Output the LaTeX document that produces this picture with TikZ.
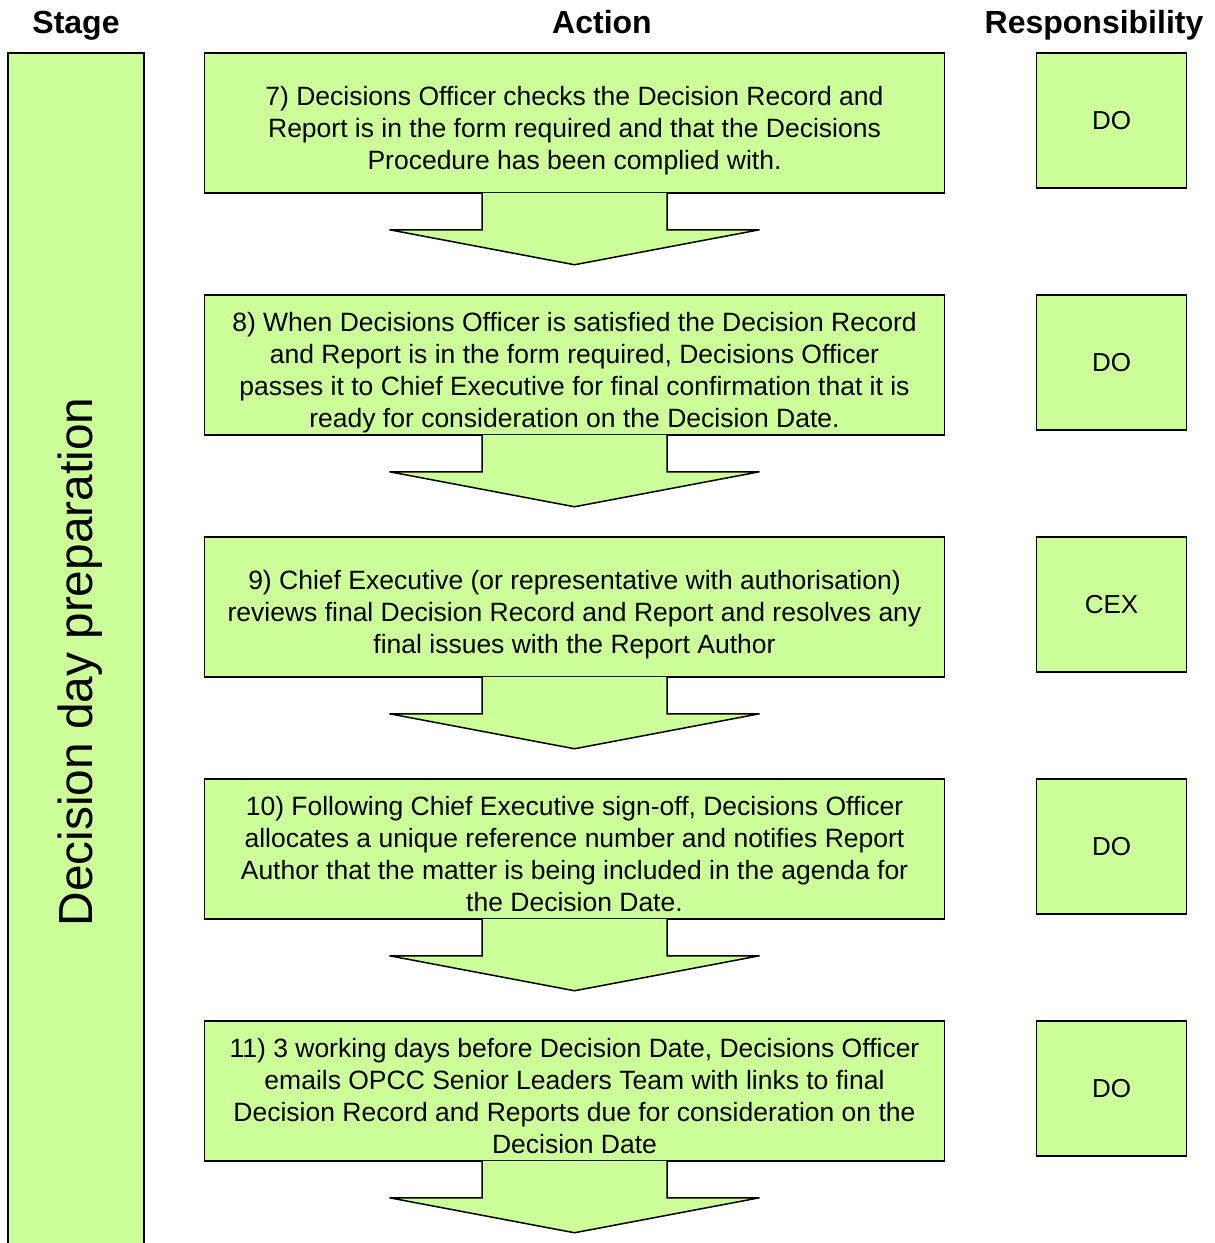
\documentclass[tikz,border=0pt]{standalone}
\usepackage{fontspec}
\setmainfont{Liberation Sans}
\definecolor{boxgreen}{HTML}{CCFF99}
% struts so that every action text sits as low in its box as in the original
\newcommand{\actiontext}[1]{\rule{0pt}{36pt}#1\rule[-7pt]{0pt}{7pt}}
\tikzset{
  actionbox/.style={draw=black, fill=boxgreen, line width=1.5pt, minimum width=740pt, minimum height=140pt,
    align=center, inner sep=0pt, font=\fontsize{26.5}{32}\selectfont},
  respbox/.style={draw=black, fill=boxgreen, line width=1.5pt, minimum width=150pt, minimum height=135pt,
    inner sep=0pt, font=\fontsize{26}{32}\selectfont},
  downarrow/.style={draw=black, fill=boxgreen, line width=1.5pt, line join=miter},
  header/.style={anchor=base, font=\bfseries\fontsize{32}{36}\selectfont},
}
\begin{document}
\begin{tikzpicture}[x=1pt, y=-1pt]
      \useasboundingbox (0,0) rectangle (1215,1243);
      % Headers
      \node[header] (hstage) at (76,33) {Stage};
      \node[header] (haction) at (602,33) {Action};
      \node[header] (hresp) at (1094,33) {Responsibility};

      % Stage column
      \draw[line width=1.5pt, fill=boxgreen] (8,1245) -- (8,53) -- (144,53) -- (144,1245);
      \node[rotate=90, font=\fontsize{47.8}{52}\selectfont] (stagelabel) at (80.5,662) {Decision day preparation};

      % Actions
      \node[actionbox] (act7) at (574.5,123) {\actiontext{7) Decisions Officer checks the Decision Record and\\
        Report is in the form required and that the Decisions\\
        Procedure has been complied with.}};
      \draw[downarrow] ([xshift=-92.5pt,yshift=1pt]act7.south) -- ++(0,37) -- ++(-92.5,0) -- ++(185,35) -- ++(185,-35) -- ++(-92.5,0) -- ++(0,-37);

      \node[actionbox] (act8) at (574.5,365) {\actiontext{8) When Decisions Officer is satisfied the Decision Record\\
        and Report is in the form required, Decisions Officer\\
        passes it to Chief Executive for final confirmation that it is\\
        ready for consideration on the Decision Date.}};
      \draw[downarrow] ([xshift=-92.5pt,yshift=1pt]act8.south) -- ++(0,37) -- ++(-92.5,0) -- ++(185,35) -- ++(185,-35) -- ++(-92.5,0) -- ++(0,-37);

      \node[actionbox] (act9) at (574.5,607) {\actiontext{9) Chief Executive (or representative with authorisation)\\
        reviews final Decision Record and Report and resolves any\\
        final issues with the Report Author}};
      \draw[downarrow] ([xshift=-92.5pt,yshift=1pt]act9.south) -- ++(0,37) -- ++(-92.5,0) -- ++(185,35) -- ++(185,-35) -- ++(-92.5,0) -- ++(0,-37);

      \node[actionbox] (act10) at (574.5,849) {\actiontext{10) Following Chief Executive sign-off, Decisions Officer\\
        allocates a unique reference number and notifies Report\\
        Author that the matter is being included in the agenda for\\
        the Decision Date.}};
      \draw[downarrow] ([xshift=-92.5pt,yshift=1pt]act10.south) -- ++(0,37) -- ++(-92.5,0) -- ++(185,35) -- ++(185,-35) -- ++(-92.5,0) -- ++(0,-37);

      \node[actionbox] (act11) at (574.5,1091) {\actiontext{11) 3 working days before Decision Date, Decisions Officer\\
        emails OPCC Senior Leaders Team with links to final\\
        Decision Record and Reports due for consideration on the\\
        Decision Date}};
      \draw[downarrow] ([xshift=-92.5pt,yshift=1pt]act11.south) -- ++(0,37) -- ++(-92.5,0) -- ++(185,35) -- ++(185,-35) -- ++(-92.5,0) -- ++(0,-37);

      % Responsibility
      \node[respbox] (resp7) at (1111.5,120.5) {DO};
      \node[respbox] (resp8) at (1111.5,362.5) {DO};
      \node[respbox] (resp9) at (1111.5,604.5) {CEX};
      \node[respbox] (resp10) at (1111.5,846.5) {DO};
      \node[respbox] (resp11) at (1111.5,1088.5) {DO};
\end{tikzpicture}
\end{document}
